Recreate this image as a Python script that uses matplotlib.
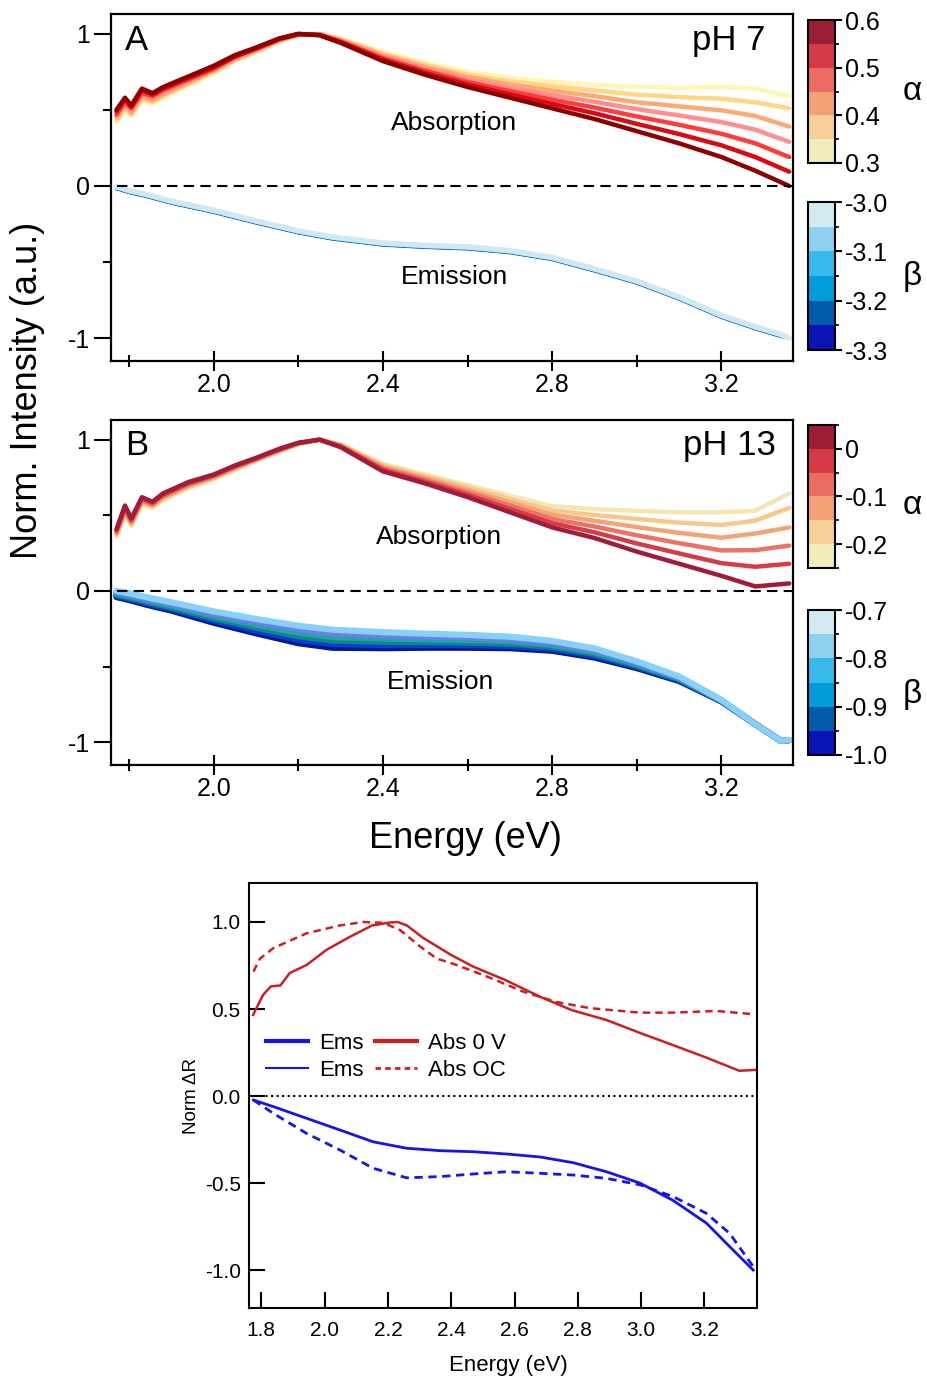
import matplotlib
matplotlib.use("Agg")
import matplotlib.pyplot as plt
from matplotlib.colors import ListedColormap, BoundaryNorm
from matplotlib.cm import ScalarMappable
from matplotlib.lines import Line2D

plt.rcParams['font.family'] = ['Liberation Sans', 'DejaVu Sans']
plt.rcParams['axes.unicode_minus'] = False

W, H = 927, 1380

# ---- panel A / B data ----
energy_abs = [1.770, 1.790, 1.805, 1.830, 1.855, 1.880, 1.940, 2.000, 2.050, 2.100, 2.155, 2.200, 2.250,
              2.300, 2.400, 2.500, 2.600, 2.700, 2.800, 2.900, 3.000, 3.100, 3.200, 3.280, 3.360]
energy_ems = [1.770, 1.800, 1.840, 1.900, 2.000, 2.100, 2.200, 2.280, 2.400, 2.500, 2.600, 2.700, 2.800,
              2.900, 3.000, 3.100, 3.200, 3.280, 3.340, 3.360]

# pH 7 absorption, alpha 0.30 -> 0.60
alpha_ph7 = [0.30, 0.35, 0.40, 0.45, 0.50, 0.55, 0.60]
abs_ph7 = [
    [.42, .50, .46, .56, .54, .58, .66, .74, .82, .88, .95, .99, 1.0, .97, .88, .81, .75, .71, .685, .665, .65, .645, .65, .64, .59],
    [.43, .51, .47, .57, .55, .59, .67, .75, .83, .885, .953, .992, .998, .965, .87, .797, .733, .688, .656, .628, .60, .584, .573, .55, .51],
    [.45, .53, .48, .59, .56, .60, .68, .76, .83, .89, .957, .993, .997, .96, .86, .783, .717, .667, .627, .59, .55, .523, .497, .46, .39],
    [.46, .54, .495, .60, .575, .615, .69, .765, .84, .895, .96, .995, .995, .955, .85, .77, .70, .645, .598, .553, .505, .463, .42, .37, .29],
    [.47, .55, .51, .61, .59, .63, .70, .77, .85, .90, .963, .997, .993, .95, .84, .757, .683, .623, .568, .515, .457, .402, .343, .28, .19],
    [.49, .57, .52, .63, .60, .64, .71, .78, .85, .905, .967, .998, .992, .945, .83, .743, .667, .602, .539, .478, .408, .341, .267, .19, .094],
    [.50, .58, .53, .64, .61, .65, .72, .79, .86, .91, .97, 1.0, .99, .94, .82, .73, .65, .58, .51, .44, .36, .28, .19, .10, .0],
]
abs_ph7_colors = ['#FFF5B4', '#FFD686', '#FCAA74', '#FF8E8E', '#FF3C3C', '#D80A14', '#8C0000']

# pH 7 emission, beta -3.0 -> -3.3
beta_ph7 = [-3.30, -3.25, -3.20, -3.15, -3.10, -3.05, -3.00]
ems_ph7 = [
    [-0.005, -0.030, -0.055, -0.100, -0.160, -0.230, -0.295, -0.335, -0.375, -0.390, -0.400, -0.425, -0.470, -0.545, -0.625, -0.730, -0.850, -0.925, -0.975, -1.000],
    [-0.008, -0.033, -0.058, -0.103, -0.163, -0.233, -0.298, -0.338, -0.378, -0.393, -0.403, -0.428, -0.473, -0.548, -0.628, -0.733, -0.853, -0.928, -0.978, -1.000],
    [-0.011, -0.036, -0.061, -0.106, -0.166, -0.236, -0.301, -0.341, -0.381, -0.396, -0.406, -0.431, -0.476, -0.551, -0.631, -0.736, -0.856, -0.931, -0.981, -1.000],
    [-0.014, -0.039, -0.064, -0.109, -0.169, -0.239, -0.304, -0.344, -0.384, -0.399, -0.409, -0.434, -0.479, -0.554, -0.634, -0.739, -0.859, -0.934, -0.984, -1.000],
    [-0.016, -0.041, -0.066, -0.111, -0.171, -0.241, -0.306, -0.346, -0.386, -0.401, -0.411, -0.436, -0.481, -0.556, -0.636, -0.741, -0.861, -0.936, -0.986, -1.000],
    [-0.018, -0.043, -0.068, -0.113, -0.173, -0.243, -0.308, -0.348, -0.388, -0.403, -0.413, -0.438, -0.483, -0.558, -0.638, -0.743, -0.863, -0.938, -0.988, -1.000],
    [-0.020, -0.045, -0.070, -0.115, -0.175, -0.245, -0.310, -0.350, -0.390, -0.405, -0.415, -0.440, -0.485, -0.560, -0.640, -0.745, -0.865, -0.940, -0.990, -1.000],
]
ems_ph7_colors = ['#CFE8F2', '#A6DBF0', '#6CC6EE', '#2FB0E8', '#0092D6', '#0070C8', '#1652CC']

# pH 13 absorption, alpha -0.25 -> 0.05
alpha_ph13 = [-0.25, -0.20, -0.15, -0.10, -0.05, 0.0, 0.05]
abs_ph13 = [
    [.36, .50, .43, .57, .55, .60, .68, .74, .80, .86, .92, .97, 1.0, .97, .84, .77, .70, .63, .56, .54, .53, .52, .52, .53, .645],
    [.37, .513, .44, .58, .558, .609, .688, .746, .806, .864, .924, .972, 1.0, .966, .83, .758, .684, .608, .532, .502, .476, .452, .436, .465, .55],
    [.38, .526, .45, .59, .566, .618, .696, .752, .812, .868, .928, .974, 1.0, .962, .82, .746, .668, .586, .504, .464, .422, .384, .352, .38, .42],
    [.39, .539, .46, .60, .574, .627, .704, .758, .818, .872, .932, .976, 1.0, .958, .81, .734, .652, .564, .476, .426, .368, .316, .268, .27, .30],
    [.40, .552, .47, .61, .582, .636, .712, .764, .824, .876, .936, .978, 1.0, .954, .80, .722, .636, .542, .448, .388, .314, .248, .184, .16, .18],
    [.41, .565, .48, .62, .59, .645, .72, .77, .83, .88, .94, .98, 1.0, .95, .79, .71, .62, .52, .42, .35, .26, .18, .10, .03, .05],
]
abs_ph13_colors = ['#F2E6B2', '#F6C88E', '#F2A476', '#EC7266', '#D63C48', '#A01C3A']

# pH 13 emission, beta -0.7 -> -1.0
beta_ph13 = [-1.00, -0.95, -0.90, -0.85, -0.80, -0.75, -0.70]
ems_ph13 = [
    [0.0, -.015, -.04, -.075, -.135, -.185, -.23, -.256, -.272, -.282, -.29, -.302, -.33, -.38, -.465, -.565, -.72, -.88, -.99, -.985],
    [-.008, -.024, -.05, -.086, -.15, -.204, -.253, -.28, -.293, -.301, -.307, -.317, -.343, -.392, -.474, -.571, -.722, -.88, -.99, -.985],
    [-.016, -.033, -.06, -.097, -.165, -.223, -.276, -.304, -.314, -.319, -.324, -.332, -.356, -.404, -.483, -.577, -.724, -.88, -.99, -.985],
    [-.024, -.042, -.07, -.108, -.18, -.242, -.299, -.327, -.336, -.338, -.341, -.348, -.369, -.416, -.492, -.583, -.726, -.88, -.99, -.985],
    [-.032, -.051, -.08, -.119, -.195, -.261, -.322, -.351, -.357, -.356, -.358, -.363, -.382, -.428, -.501, -.589, -.728, -.88, -.99, -.985],
    [-.04, -.06, -.09, -.13, -.21, -.28, -.345, -.375, -.378, -.375, -.375, -.378, -.395, -.44, -.51, -.595, -.73, -.88, -.99, -.985],
]
ems_ph13_colors = ['#86D0FA', '#6E7CEE', '#22A2AA', '#12887A', '#0A3CE0', '#061A8C']

alpha_bar_colors = ['#9B1D36', '#D33A45', '#EC6B62', '#F3A077', '#F7CF98', '#F2EBBB']  # top -> bottom
beta_bar_colors = ['#D3EAF2', '#8ED1EE', '#38B9EC', '#009BDB', '#005CAA', '#0A14B4']

# ---- bottom panel data ----
e_abs_0v = [1.774, 1.805, 1.83, 1.86, 1.89, 1.943, 2.006, 2.08, 2.15, 2.207, 2.23, 2.26, 2.31, 2.40,
            2.47, 2.57, 2.68, 2.78, 2.89, 3.0, 3.1, 3.21, 3.31, 3.36]
abs_0v = [.466, .58, .63, .635, .707, .753, .84, .915, .98, .997, 1.0, .98, .91, .81,
          .743, .667, .571, .494, .437, .36, .293, .218, .145, .15]
e_abs_oc = [1.775, 1.796, 1.838, 1.943, 2.048, 2.122, 2.185, 2.238, 2.301, 2.354, 2.417, 2.522,
            2.627, 2.733, 2.838, 2.996, 3.101, 3.238, 3.354]
abs_oc = [.715, .79, .85, .935, .98, 1.0, .995, .954, .86, .79, .753, .68, .60, .54, .505, .479, .479, .489, .47]
e_ems = [1.775, 1.838, 1.943, 2.048, 2.153, 2.259, 2.364, 2.469, 2.574, 2.680, 2.785, 2.890, 2.996,
         3.101, 3.206, 3.280, 3.354]
ems_0v = [-.023, -.061, -.128, -.195, -.263, -.30, -.314, -.32, -.333, -.35, -.383, -.435, -.50,
          -.60, -.73, -.866, -1.0]
ems_oc = [-.023, -.10, -.215, -.31, -.415, -.47, -.463, -.448, -.435, -.444, -.454, -.473, -.51,
          -.578, -.674, -.79, -.98]


def box(l, t, r, b):
    return [l / W, 1 - b / H, (r - l) / W, (b - t) / H]


def ftext(x, y, s, **kw):
    fig.text(x / W, 1 - y / H, s, **kw)


fig = plt.figure(figsize=(W / 100, H / 100), dpi=100)


def spectra(ax, abs_rows, abs_cols, ems_rows, ems_cols, ems_lws, letter, ph, ph_x, abs_xy, ems_xy):
    for row, c in zip(abs_rows, abs_cols):
        ax.plot(energy_abs, row, color=c, lw=3.2, solid_capstyle='round')
    # darkest first so the lightest emission curve sits on top
    for row, c, lw in list(zip(ems_rows, ems_cols, ems_lws))[::-1]:
        ax.plot(energy_ems, row, color=c, lw=lw, solid_capstyle='round')
    ax.hlines(0, energy_abs[0], 3.37, colors='k', lw=1.5, linestyles=(0, (5, 3)))
    ax.set_xlim(1.757, 3.369)
    ax.set_ylim(-1.15, 1.13)
    ax.set_xticks([2.0, 2.4, 2.8, 3.2], labels=['2.0', '2.4', '2.8', '3.2'])
    ax.set_xticks([1.8, 2.2, 2.6, 3.0], minor=True)
    ax.set_yticks([-1, 0, 1], labels=['-1', '0', '1'])
    ax.set_yticks([-0.5, 0.5], minor=True)
    ax.tick_params(axis='x', which='major', direction='inout', length=14, width=1.5, labelsize=18, pad=2)
    ax.tick_params(axis='x', which='minor', direction='inout', length=9, width=1.5)
    ax.tick_params(axis='y', which='major', direction='out', length=12, width=1.5, labelsize=18, pad=3)
    ax.tick_params(axis='y', which='minor', direction='out', length=6, width=1.5)
    for s in ax.spines.values():
        s.set_linewidth(1.6)
    ax.text(0.02, 0.925, letter, transform=ax.transAxes, fontsize=25, va='center', ha='left')
    ax.text(ph_x, 0.925, ph, transform=ax.transAxes, fontsize=25, va='center', ha='right')
    ax.text(abs_xy[0], abs_xy[1], 'Absorption', fontsize=19, ha='center', va='center')
    ax.text(ems_xy[0], ems_xy[1], 'Emission', fontsize=19, ha='center', va='center')


def level_bar(rect, colors, bounds, major, labels, minor, symbol, sym_y):
    cax = fig.add_axes(box(*rect))
    cmap = ListedColormap(colors[::-1])
    norm = BoundaryNorm(bounds, cmap.N)
    cb = fig.colorbar(ScalarMappable(norm=norm, cmap=cmap), cax=cax)
    cb.set_ticks(major, labels=labels)
    cb.set_ticks(minor, minor=True)
    cax.tick_params(which='major', length=5, width=1.5, labelsize=18, pad=2)
    cax.tick_params(which='minor', length=3, width=1.2)
    cb.outline.set_linewidth(1.5)
    ftext(912, sym_y, symbol, fontsize=24, ha='center', va='center')


axA = fig.add_axes(box(111, 14, 793, 361))
spectra(axA, abs_ph7, abs_ph7_colors, ems_ph7, ems_ph7_colors, [4, 2, 2, 2, 2, 2, 2],
        'A', 'pH 7', 0.959, (2.568, 0.414), (2.57, -0.60))

axB = fig.add_axes(box(111, 420, 793, 765))
spectra(axB, abs_ph13, abs_ph13_colors, ems_ph13, ems_ph13_colors, [4.5] * 6,
        'B', 'pH 13', 0.975, (2.533, 0.355), (2.535, -0.60))

level_bar((808, 20, 835, 163), alpha_bar_colors, alpha_ph7, [0.3, 0.4, 0.5, 0.6],
          ['0.3', '0.4', '0.5', '0.6'], [0.35, 0.45, 0.55], 'α', 92)
level_bar((808, 202, 835, 350), beta_bar_colors, beta_ph7, [-3.3, -3.2, -3.1, -3.0],
          ['-3.3', '-3.2', '-3.1', '-3.0'], [-3.25, -3.15, -3.05], 'β', 277)
level_bar((808, 425, 835, 568), alpha_bar_colors, alpha_ph13, [-0.2, -0.1, 0.0],
          ['-0.2', '-0.1', '0'], [-0.25, -0.15, -0.05, 0.05], 'α', 505)
level_bar((808, 610, 835, 755), beta_bar_colors, beta_ph13, [-1.0, -0.9, -0.8, -0.7],
          ['-1.0', '-0.9', '-0.8', '-0.7'], [-0.95, -0.85, -0.75], 'β', 695)

ftext(28, 390, 'Norm. Intensity (a.u.)', fontsize=26, rotation=90, ha='center', va='center')
ftext(465, 838, 'Energy (eV)', fontsize=26, ha='center', va='center')

# ---- bottom panel ----
red, blue = '#CC1F1F', '#1515E8'
ax3 = fig.add_axes(box(249, 883, 757, 1308))
ax3.axhline(0, color='k', ls=':', lw=1.5)
ax3.plot(e_abs_0v, abs_0v, color=red, lw=1.8)
ax3.plot(e_abs_oc, abs_oc, color=red, lw=1.8, ls=(0, (3, 2)))
ax3.plot(e_ems, ems_0v, color=blue, lw=2)
ax3.plot(e_ems, ems_oc, color=blue, lw=2, ls=(0, (3, 2)))
ax3.set_xlim(1.761, 3.366)
ax3.set_ylim(-1.218, 1.224)
xt = [1.8, 2.0, 2.2, 2.4, 2.6, 2.8, 3.0, 3.2]
ax3.set_xticks(xt, labels=['%.1f' % v for v in xt])
yt = [-1.0, -0.5, 0.0, 0.5, 1.0]
ax3.set_yticks(yt, labels=['%.1f' % v for v in yt])
ax3.tick_params(axis='x', direction='in', length=11.5, width=1.5, labelsize=15, pad=9)
ax3.tick_params(axis='y', direction='in', length=11.5, width=1.5, labelsize=15, pad=6)
for s in ax3.spines.values():
    s.set_linewidth(1.5)

handles = [Line2D([], [], color=blue, lw=3), Line2D([], [], color=blue, lw=1.5),
           Line2D([], [], color=red, lw=3), Line2D([], [], color=red, lw=2, ls=(0, (2, 1.5)))]
ax3.legend(handles, ['Ems', 'Ems', 'Abs 0 V', 'Abs OC'], ncol=2, frameon=False, fontsize=16,
           loc='upper left', bbox_to_anchor=(0.0335, 0.647), borderpad=0, borderaxespad=0,
           handlelength=1.9, handletextpad=0.5, columnspacing=0.5, labelspacing=0.25)

ftext(508, 1366, 'Energy (eV)', fontsize=16, ha='center', va='center')
ftext(192, 1096, 'Norm ΔR', fontsize=13.5, rotation=90, ha='center', va='center')

fig.savefig('out.png', dpi=100)
